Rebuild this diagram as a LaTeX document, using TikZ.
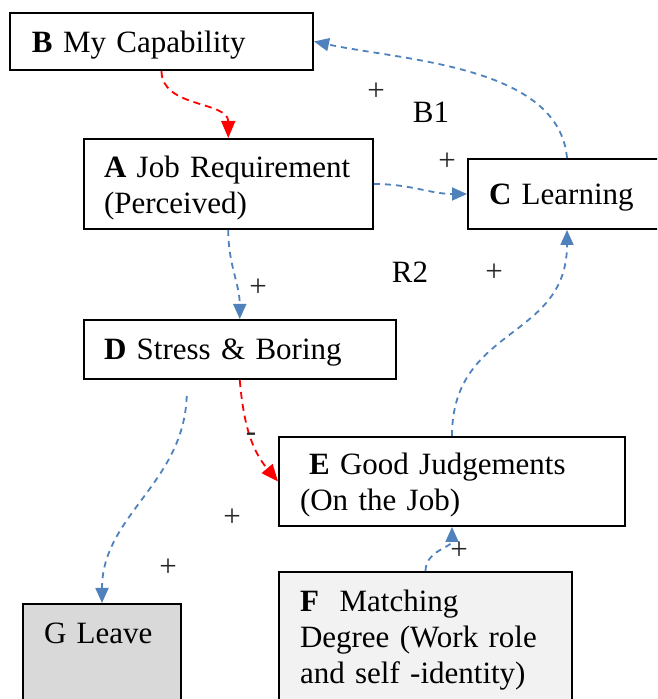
\documentclass[tikz,border=0pt]{standalone}
\usepackage{fontspec}
\setmainfont{Liberation Serif}
\usepackage{tikz}
\usetikzlibrary{arrows.meta}
\definecolor{linkblue}{HTML}{4F81BD}
\definecolor{linkred}{HTML}{FF0000}
\definecolor{leavegray}{HTML}{D9D9D9}
\definecolor{matchgray}{HTML}{F2F2F2}
\tikzset{
	factor/.style={draw, line width=1pt, anchor=north west, align=left, inner ysep=0pt, font=\fontsize{15.5}{18}\selectfont},
	oneline/.style={text depth=0pt},
	twoline/.style={text height=14.8pt},
	poslink/.style={linkblue, line width=0.9pt, dash pattern=on 3pt off 2.5pt, -{Triangle[length=7.5pt,width=6.5pt]}},
	neglink/.style={linkred, line width=0.9pt, dash pattern=on 3.5pt off 2.5pt, -{Triangle[length=8.5pt,width=7pt]}},
	sign/.style={font=\fontsize{15.5}{18}\selectfont, text=black!85, inner sep=0pt},
}

\begin{document}
\begin{tikzpicture}[x=0.5pt, y=0.5pt]
		\useasboundingbox (0,0) rectangle (657,699);
		\clip (0,0) rectangle (657,699);

		% factors
		\node[factor, oneline, text width=129.5pt, inner xsep=11pt, minimum height=28.5pt] (B) at (9,687) {\mbox{\textbf{B} My Capability}};
		\node[factor, twoline, text width=124.25pt, inner xsep=10.25pt, minimum height=45pt] (A) at (82.5,561) {\mbox{\textbf{A} Job Requirement}\\\mbox{(Perceived)}};
		\node[factor, oneline, text width=78pt, inner xsep=10.5pt, minimum height=35pt] (C) at (467,541) {\mbox{\textbf{C} Learning}};
		\node[factor, oneline, text width=135.75pt, inner xsep=10.25pt, minimum height=29.5pt] (D) at (82.5,380) {\mbox{\textbf{D} Stress \& Boring}};
		\node[factor, twoline, text width=152pt, inner xsep=10.5pt, minimum height=44.5pt] (E) at (278,263) {\mbox{\hspace{4.5pt}\textbf{E} Good Judgements}\\\mbox{(On the Job)}};
		\node[factor, fill=matchgray, text width=125.5pt, inner xsep=10.5pt, inner ysep=9pt] (F) at (278,128) {\mbox{\textbf{F}\ \ Matching}\\\mbox{Degree (Work role}\\\mbox{and self -identity)}};
		\node[factor, fill=leavegray, text width=58pt, inner xsep=10.5pt, inner ysep=9.5pt, text depth=20pt] (G) at (22,96) {\mbox{G Leave}};

		% links
		\draw[neglink] (B.south) to[out=-90,in=90] (A.north);
		\draw[poslink] (C.north) to[out=95,in=-12,looseness=0.85] (B.east);
		\draw[poslink] (A.east) to[out=0,in=180] (C.west);
		\draw[poslink] (A.south) to[out=-90,in=90] (D.north);
		\draw[neglink] (D.south) to[out=-85,in=130] (E.west);
		\draw[poslink] ([xshift=-26.5pt,yshift=-8pt]D.south) to[out=-92,in=90] (G.north);
		\draw[poslink] (E.north) to[out=90,in=-90,looseness=1.2] (C.south);
		\draw[poslink] (F.north) to[out=90,in=-90] (E.south);

		% polarities and loops
		\foreach \px/\py [count=\i] in {376/607, 447/537, 494/426, 258/411, 232/181, 168/131, 459/148}
		\node[sign] (plus\i) at (\px,\py) {+};
		\node[sign] (minus) at (251,262) {-};
		\node[sign, text=black] (loopB1) at (431,587) {B1};
		\node[sign, text=black] (loopR2) at (410,427) {R2};
	\end{tikzpicture}
\end{document}
